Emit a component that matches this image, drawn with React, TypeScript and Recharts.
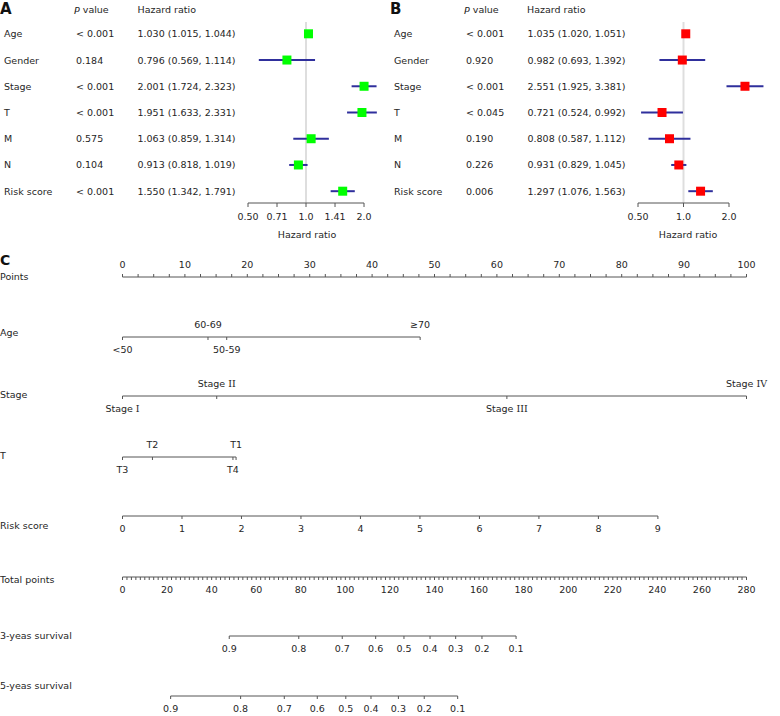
import React from 'react';
import { ScatterChart, Scatter, XAxis, YAxis, ErrorBar, ReferenceLine, ComposedChart, Line } from 'recharts';

const FONT = '"DejaVu Sans", Verdana, sans-serif';
const SERIF = '"DejaVu Serif", "Liberation Serif", serif';
const FS = 9.5;
const TXT = '#262626';
const AXC = '#555';

// ---------- Panel A / B data ----------
const variables = ['Age', 'Gender', 'Stage', 'T', 'M', 'N', 'Risk score'];

const aPValues = ['< 0.001', '0.184', '< 0.001', '< 0.001', '0.575', '0.104', '< 0.001'];
const aHR = [1.030, 0.796, 2.001, 1.951, 1.063, 0.913, 1.550];
const aLower = [1.015, 0.569, 1.724, 1.633, 0.859, 0.818, 1.342];
const aUpper = [1.044, 1.114, 2.323, 2.331, 1.314, 1.019, 1.791];
const aTicks = [0.5, 0.7071, 1, 1.4142, 2];
const aTickLabels = ['0.50', '0.71', '1.0', '1.41', '2.0'];

const bPValues = ['< 0.001', '0.920', '< 0.001', '< 0.045', '0.190', '0.226', '0.006'];
const bHR = [1.035, 0.982, 2.551, 0.721, 0.808, 0.931, 1.297];
const bLower = [1.020, 0.693, 1.925, 0.524, 0.587, 0.829, 1.076];
const bUpper = [1.051, 1.392, 3.381, 0.992, 1.112, 1.045, 1.563];
const bTicks = [0.5, 1, 2];
const bTickLabels = ['0.50', '1.0', '2.0'];

// ---------- Panel C data ----------
const rowLabels = ['Points', 'Age', 'Stage', 'T', 'Risk score', 'Total points', '3-yeas survival', '5-yeas survival'];
const pointsMajor = [0, 10, 20, 30, 40, 50, 60, 70, 80, 90, 100];
const ageLevels = ['<50', '50-59', '60-69', '≥70'];
const agePoints = [0, 16.7, 13.7, 47.7];
const stageLevels = ['Stage I', 'Stage II', 'Stage III', 'Stage IV'];
const stagePoints = [0, 15.1, 61.6, 100];
const tLevels = ['T1', 'T2', 'T3', 'T4'];
const tPoints = [18.2, 4.8, 0, 17.7];
const riskValues = [0, 1, 2, 3, 4, 5, 6, 7, 8, 9];
const riskMaxPoints = 85.8; // points given to a risk score of 9
const totalMajor = [0, 20, 40, 60, 80, 100, 120, 140, 160, 180, 200, 220, 240, 260, 280];
const surv3Labels = ['0.9', '0.8', '0.7', '0.6', '0.5', '0.4', '0.3', '0.2', '0.1'];
const surv3Total = [47.9, 79.1, 98.6, 113.6, 126.3, 138.0, 149.5, 161.3, 176.6];
const surv5Labels = ['0.9', '0.8', '0.7', '0.6', '0.5', '0.4', '0.3', '0.2', '0.1'];
const surv5Total = [21.6, 53.0, 72.6, 87.4, 100.2, 111.5, 123.8, 135.4, 150.4];

// ---------- Forest plot ----------
function Forest(props: {
  pvals: string[]; hr: number[]; lo: number[]; hi: number[];
  ticks: number[]; tickLabels: string[]; domain: [number, number]; right: number; color: string;
}) {
  const { pvals, hr, lo, hi, ticks, tickLabels, domain, right, color } = props;
  const data = hr.map((h, i) => ({ row: i, hr: h, err: [h - lo[i], hi[i] - h] }));
  const yTick = (p: any) => {
    const i = p.payload.value;
    const y = p.y;
    const st = { fontSize: FS, fill: TXT, fontFamily: FONT } as any;
    return (
      <g>
        <text x={4} y={y} dominantBaseline="central" style={st}>{variables[i]}</text>
        <text x={76} y={y} dominantBaseline="central" style={st}>{pvals[i]}</text>
        <text x={137.5} y={y} dominantBaseline="central" style={st}>
          {`${hr[i].toFixed(3)} (${lo[i].toFixed(3)}, ${hi[i].toFixed(3)})`}
        </text>
      </g>
    );
  };
  const square = (p: any) => (
    <rect x={p.cx - 4.5} y={p.cy - 4.5} width={9} height={9} fill={color} />
  );
  return (
    <ScatterChart width={390} height={240} margin={{ top: 22, right, bottom: 0, left: 0 }}>
      <XAxis
        type="number" dataKey="hr" scale="log" domain={domain} ticks={ticks} interval={0}
        height={37} axisLine={false} tickSize={4} tickMargin={6}
        tickLine={{ stroke: AXC }}
        tick={{ fontSize: FS, fill: TXT, fontFamily: FONT }}
        tickFormatter={(v: number) => tickLabels[ticks.indexOf(v)]}
      />
      <YAxis
        type="number" dataKey="row" domain={[-0.45, 6.45]} reversed ticks={[0, 1, 2, 3, 4, 5, 6]}
        interval={0} width={248} axisLine={false} tickLine={false} tickSize={0} tickMargin={0} tick={yTick}
      />
      <ReferenceLine x={1} stroke="#dedede" strokeWidth={2} />
      <ReferenceLine segment={[{ x: ticks[0], y: 6.45 }, { x: ticks[ticks.length - 1], y: 6.45 }]} stroke={AXC} />
      <Scatter data={data} shape={square} isAnimationActive={false}>
        <ErrorBar dataKey="err" direction="x" width={0} stroke="#2f2f9c" strokeWidth={2} />
      </Scatter>
    </ScatterChart>
  );
}

// ---------- Nomogram row ----------
const X0 = 122.5;
const X1 = 746.5;
const RH = 60;
const AXIS_Y = 30;

function renderLabel(lab: string) {
  const m = lab.match(/^(Stage )(I+V?|IV)$/);
  if (m) {
    return (
      <>
        <tspan>{m[1]}</tspan>
        <tspan fontFamily={SERIF}>{m[2]}</tspan>
      </>
    );
  }
  return lab;
}

function NomoRow(props: {
  lineY: number; domain: [number, number]; ticks: number[]; labels: string[];
  sides: string[]; dir: number; seg: [number, number];
}) {
  const { lineY, domain, ticks, labels, sides, dir, seg } = props;
  const lineData = [{ v: seg[0], base: 0 }, { v: seg[1], base: 0 }];
  const tick = (p: any) => {
    const i = ticks.indexOf(p.payload.value);
    const x = p.x;
    const y = p.y;
    const lab = labels[i];
    const side = sides[i];
    return (
      <g>
        <line x1={x} x2={x} y1={y} y2={y + dir * 3} stroke={AXC} strokeWidth={1} />
        {lab !== '' && (
          <text
            x={x} y={side === 'above' ? y - 13 : y + 12} textAnchor="middle" dominantBaseline="central"
            style={{ fontSize: FS, fill: TXT, fontFamily: FONT }}
          >{renderLabel(lab)}</text>
        )}
      </g>
    );
  };
  return (
    <div style={{ position: 'absolute', left: 0, top: lineY - AXIS_Y }}>
      <ComposedChart width={780} height={RH} data={lineData} margin={{ top: 0, right: 780 - X1, bottom: 0, left: X0 }}>
        <XAxis
          type="number" dataKey="v" orientation="bottom" height={RH - AXIS_Y} domain={domain} ticks={ticks} interval={0}
          tickSize={0} tickMargin={0} tickLine={false} axisLine={false} tick={tick}
        />
        <YAxis type="number" hide domain={[0, 1]} />
        <Line dataKey="base" stroke={AXC} strokeWidth={1} dot={false} isAnimationActive={false} />
      </ComposedChart>
    </div>
  );
}

function range(a: number, b: number, step: number) {
  const out: number[] = [];
  for (let v = a; v <= b + 1e-9; v += step) out.push(Math.round(v * 1000) / 1000);
  return out;
}

export default function App() {
  const pointsTicks = range(0, 100, 2.5);
  const pointsLabels = pointsTicks.map((v) => (pointsMajor.includes(v) ? String(v) : ''));
  const totalTicks = range(0, 280, 2);
  const totalLabels = totalTicks.map((v) => (totalMajor.includes(v) ? String(v) : ''));
  const minMax = (a: number[]): [number, number] => [Math.min(...a), Math.max(...a)];

  const rowLabelY = [276, 332, 394, 455, 525, 579, 635, 685];
  const txt = { fontSize: FS, fill: TXT, fontFamily: FONT } as any;

  return (
    <div style={{ position: 'absolute', left: 0, top: 0, width: 780, height: 716, background: '#fff', overflow: 'hidden', fontFamily: FONT }}>
      <div style={{ position: 'absolute', left: 0, top: 0 }}>
        <Forest pvals={aPValues} hr={aHR} lo={aLower} hi={aUpper} ticks={aTicks} tickLabels={aTickLabels}
          domain={[0.5, 2.5]} right={7.3} color="#00ff00" />
      </div>
      <div style={{ position: 'absolute', left: 390, top: 0 }}>
        <Forest pvals={bPValues} hr={bHR} lo={bLower} hi={bUpper} ticks={bTicks} tickLabels={bTickLabels}
          domain={[0.5, 4]} right={5.5} color="#ff0000" />
      </div>

      <NomoRow lineY={277} domain={[0, 100]} ticks={pointsTicks} labels={pointsLabels}
        sides={pointsTicks.map(() => 'above')} dir={-1} seg={[0, 100]} />
      <NomoRow lineY={337} domain={[0, 100]} ticks={agePoints} labels={ageLevels}
        sides={['below', 'below', 'above', 'above']} dir={1} seg={minMax(agePoints)} />
      <NomoRow lineY={396} domain={[0, 100]} ticks={stagePoints} labels={stageLevels}
        sides={['below', 'above', 'below', 'above']} dir={1} seg={minMax(stagePoints)} />
      <NomoRow lineY={457} domain={[0, 100]} ticks={tPoints} labels={tLevels}
        sides={['above', 'above', 'below', 'below']} dir={1} seg={minMax(tPoints)} />
      <NomoRow lineY={516} domain={[0, riskValues[riskValues.length - 1] * 100 / riskMaxPoints]} ticks={riskValues}
        labels={riskValues.map(String)} sides={riskValues.map(() => 'below')} dir={1} seg={minMax(riskValues)} />
      <NomoRow lineY={577} domain={[0, 280]} ticks={totalTicks} labels={totalLabels}
        sides={totalTicks.map(() => 'below')} dir={1} seg={[0, 280]} />
      <NomoRow lineY={636} domain={[0, 280]} ticks={surv3Total} labels={surv3Labels}
        sides={surv3Total.map(() => 'below')} dir={1} seg={minMax(surv3Total)} />
      <NomoRow lineY={696} domain={[0, 280]} ticks={surv5Total} labels={surv5Labels}
        sides={surv5Total.map(() => 'below')} dir={1} seg={minMax(surv5Total)} />

      <svg width={780} height={716} style={{ position: 'absolute', left: 0, top: 0, pointerEvents: 'none' }}>
        <text x={0} y={14} style={{ fontSize: 15, fontWeight: 'bold', fill: '#111', fontFamily: FONT }}>A</text>
        <text x={390} y={14} style={{ fontSize: 15, fontWeight: 'bold', fill: '#111', fontFamily: FONT }}>B</text>
        <text x={0} y={265} style={{ fontSize: 14, fontWeight: 'bold', fill: '#111', fontFamily: FONT }}>C</text>

        <text x={74} y={9.5} dominantBaseline="central" style={txt}><tspan fontStyle="italic">P</tspan> value</text>
        <text x={137.5} y={9.5} dominantBaseline="central" style={txt}>Hazard ratio</text>
        <text x={464} y={9.5} dominantBaseline="central" style={txt}><tspan fontStyle="italic">P</tspan> value</text>
        <text x={527} y={9.5} dominantBaseline="central" style={txt}>Hazard ratio</text>

        <text x={307} y={234} textAnchor="middle" dominantBaseline="central" style={txt}>Hazard ratio</text>
        <text x={688} y={234} textAnchor="middle" dominantBaseline="central" style={txt}>Hazard ratio</text>

        {rowLabels.map((l, i) => (
          <text key={l} x={0} y={rowLabelY[i]} dominantBaseline="central" style={txt}>{l}</text>
        ))}
      </svg>
    </div>
  );
}
